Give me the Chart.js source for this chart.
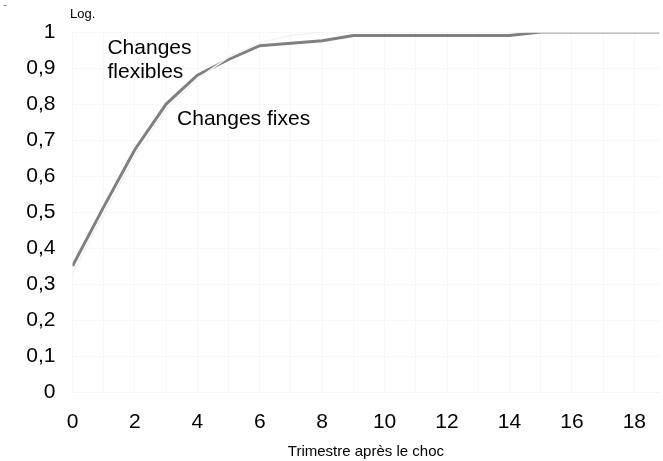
<!DOCTYPE html>
<html>
<head>
<meta charset="utf-8">
<script src="https://cdn.jsdelivr.net/npm/chart.js@4.4.1/dist/chart.umd.min.js"></script>
<style>
  html, body { margin: 0; padding: 0; background: #ffffff; }
  #wrap { position: relative; width: 663px; height: 461px; }
  #mark { position: absolute; left: 3px; top: -2px; font: 12px "Liberation Sans", Arial, sans-serif; color: #888; }
  #unit { position: absolute; left: 70px; top: 6px; font: 13px "Liberation Sans", Arial, sans-serif; color: #000; }
</style>
</head>
<body>
<div id="wrap">
  <canvas id="c" width="663" height="461"></canvas>
  <div id="mark">-</div>
  <div id="unit">Log.</div>
</div>
<script>
// Data
const quarters = [0,1,2,3,4,5,6,7,8,9,10,11,12,13,14,15,16,17,18,19];
const flexibles = [0.351,0.515,0.674,0.800,0.880,0.924,0.962,0.969,0.976,0.990,0.990,0.990,0.990,0.990,0.990,1.000,1.000,1.000,1.000,1.000];
const fixes = [0.330,0.495,0.655,0.785,0.870,0.930,0.970,0.990,1.000,1.000,1.000,1.000,1.000,1.000,1.000,1.000,1.000,1.000,1.000,1.000];
const xTickValues = [0,1,2,3,4,5,6,7,8,9,10,11,12,13,14,15,16,17,18];
const yTickValues = [0,0.1,0.2,0.3,0.4,0.5,0.6,0.7,0.8,0.9,1];
const seriesNames = ['Changes flexibles', 'Changes fixes'];
const annotations = [
  { text: 'Changes', x: 1.12, y: 0.956 },
  { text: 'flexibles', x: 1.12, y: 0.888 },
  { text: 'Changes fixes', x: 3.35, y: 0.758 }
];

const FONT = '"Liberation Sans", Arial, sans-serif';

const textPlugin = {
  id: 'textLabels',
  afterDatasetsDraw(chart) {
    const ctx = chart.ctx;
    const xs = chart.scales.x, ys = chart.scales.y;
    ctx.save();
    ctx.fillStyle = '#000';
    ctx.font = '21px ' + FONT;
    ctx.textAlign = 'left';
    ctx.textBaseline = 'middle';
    annotations.forEach(a => {
      ctx.fillText(a.text, xs.getPixelForValue(a.x), ys.getPixelForValue(a.y));
    });
    ctx.restore();
  }
};

new Chart(document.getElementById('c'), {
  type: 'line',
  data: {
    datasets: [
      {
        label: seriesNames[1],
        data: quarters.map((q, i) => ({ x: q, y: fixes[i] })),
        borderColor: '#f3f3f3',
        borderWidth: 1.5,
        pointRadius: 0,
        tension: 0
      },
      {
        label: seriesNames[0],
        data: quarters.map((q, i) => ({ x: q, y: flexibles[i] })),
        borderColor: '#808080',
        borderWidth: 3,
        pointRadius: 0,
        tension: 0
      }
    ]
  },
  options: {
    responsive: false,
    animation: false,
    layout: { padding: { top: 32, left: 0, right: 0, bottom: 0 } },
    plugins: {
      legend: { display: false },
      tooltip: { enabled: false }
    },
    scales: {
      x: {
        type: 'linear',
        min: 0,
        max: 18.8,
        afterBuildTicks: s => { s.ticks = xTickValues.map(v => ({ value: v })); },
        afterFit: s => { s.height = 68.5; },
        grid: { color: '#f8f8f8', drawTicks: false },
        border: { color: '#f6f6f6' },
        ticks: {
          padding: 17,
          color: '#000',
          font: { family: FONT, size: 21 },
          maxRotation: 0,
          autoSkip: false,
          callback: v => (v % 2 === 0 ? String(v) : '')
        },
        title: {
          display: true,
          text: 'Trimestre après le choc',
          color: '#000',
          font: { family: FONT, size: 15 },
          padding: { top: 0, bottom: 0 }
        }
      },
      y: {
        min: 0,
        max: 1,
        afterBuildTicks: s => { s.ticks = yTickValues.map(v => ({ value: v })); },
        afterFit: s => { s.width = 72.5; },
        grid: { color: '#f8f8f8', drawTicks: false },
        border: { color: '#f6f6f6' },
        ticks: {
          padding: 17,
          color: '#000',
          font: { family: FONT, size: 21 },
          callback: v => String(Math.round(v * 10) / 10).replace('.', ',')
        }
      }
    }
  },
  plugins: [textPlugin]
});
</script>
</body>
</html>
